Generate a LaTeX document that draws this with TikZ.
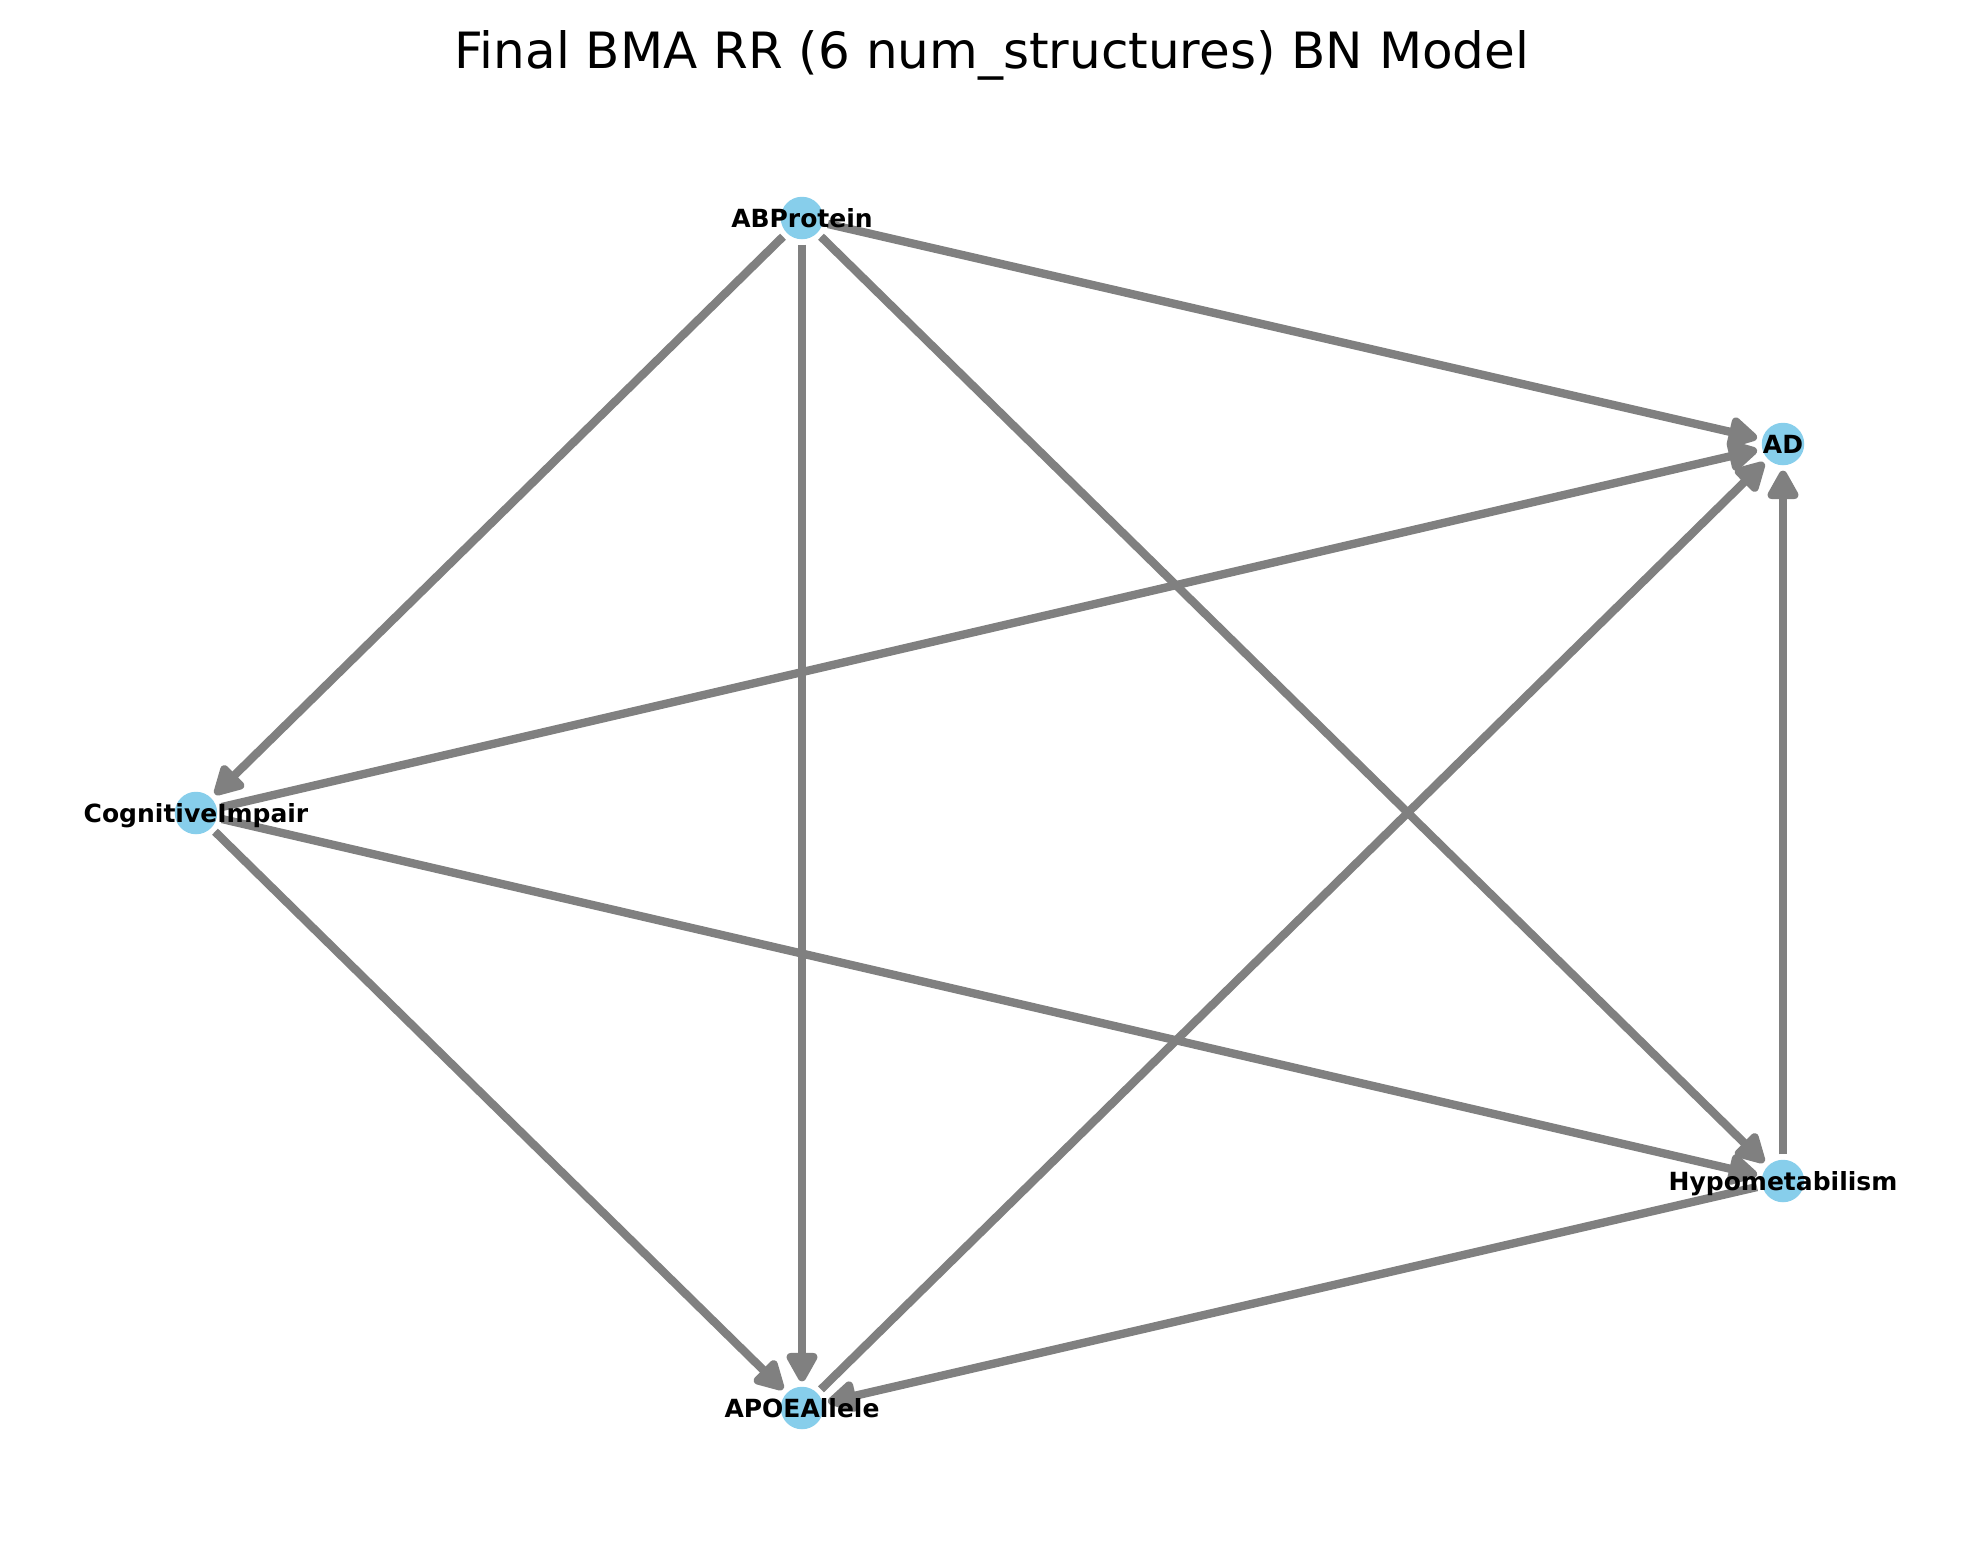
\documentclass[tikz,border=0pt]{standalone}
\usepackage{fontspec}
\setmainfont{DejaVu Sans}
\usetikzlibrary{arrows.meta}
\definecolor{skyblue}{HTML}{87CEEB}
\begin{document}
\begin{tikzpicture}[
		x=0.24pt, y=-0.24pt,
		bnnode/.style={circle, fill=skyblue, draw=none, minimum size=10.2pt, inner sep=0pt, outer sep=1.3pt},
		bnlabel/.style={font=\fontsize{6}{7}\selectfont\bfseries, anchor=base, inner sep=0pt},
		edge/.style={draw=gray, line width=2pt, -{Triangle[length=8pt, width=8.2pt, round]}},
		title/.style={font=\fontsize{12}{14}\selectfont, anchor=base, inner sep=0pt}
		]
		\useasboundingbox (0,0) rectangle (1980,1563);
		
		% Title
		\node[title] (ttl) at (992,68) {Final BMA RR (6 num\_structures) BN Model};
		
		% Nodes
		\node[bnnode] (abp) at (802,218) {};
		\node[bnnode] (ad) at (1783,444) {};
		\node[bnnode] (cog) at (196,813) {};
		\node[bnnode] (hypo) at (1783,1181) {};
		\node[bnnode] (apoe) at (802,1408) {};
		
		% Edges
		\draw[edge] (abp) -- (ad);
		\draw[edge] (abp) -- (cog);
		\draw[edge] (abp) -- (apoe);
		\draw[edge] (abp) -- (hypo);
		\draw[edge] (cog) -- (ad);
		\draw[edge] (cog) -- (apoe);
		\draw[edge] (cog) -- (hypo);
		\draw[edge] (apoe) -- (ad);
		\draw[edge] (hypo) -- (ad);
		\draw[edge] (hypo) -- (apoe);
		
		% Labels
		\node[bnlabel] (abptxt) at ([yshift=-2.16pt]abp.center) {ABProtein};
		\node[bnlabel] (adtxt) at ([yshift=-2.16pt]ad.center) {AD};
		\node[bnlabel] (cogtxt) at ([yshift=-2.16pt]cog.center) {CognitiveImpair};
		\node[bnlabel] (hypotxt) at ([yshift=-2.16pt]hypo.center) {Hypometabilism};
		\node[bnlabel] (apoetxt) at ([yshift=-2.16pt]apoe.center) {APOEAllele};
		
	\end{tikzpicture}
\end{document}
